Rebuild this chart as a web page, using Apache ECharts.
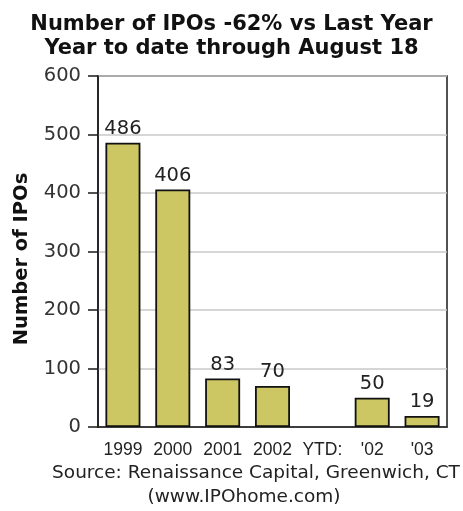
<!DOCTYPE html>
<html>
<head>
<meta charset="utf-8">
<script src="https://cdn.jsdelivr.net/npm/echarts@6/dist/echarts.min.js"></script>
<style>html,body{margin:0;padding:0;background:#fff}#c{width:463px;height:511px}</style>
</head>
<body>
<div id="c"></div>
<script>
var categories = ['1999', '2000', '2001', '2002', 'YTD:', "'02", "'03"];
var ipoCounts = [486, 406, 83, 70, null, 50, 19];
var titleLines = ['Number of IPOs -62% vs Last Year', 'Year to date through August 18'];
var yAxisName = 'Number of IPOs';
var sourceLines = ['Source: Renaissance Capital, Greenwich, CT', '(www.IPOhome.com)'];

var chart = echarts.init(document.getElementById('c'));
chart.setOption({
  backgroundColor: '#fff',
  animation: false,
  title: {
    text: titleLines.join('\n'),
    left: 'center',
    top: 7,
    textStyle: { fontFamily: 'DejaVu Sans', fontWeight: 'bold', fontSize: 21, lineHeight: 24.5, color: '#111' }
  },
  grid: { left: 98, right: 16, top: 76, bottom: 84, show: true, borderColor: '#1a1a1a', borderWidth: 1.5, backgroundColor: 'transparent' },
  xAxis: {
    type: 'category',
    data: categories,
    axisLine: { lineStyle: { color: '#1a1a1a', width: 1.5 } },
    axisTick: { alignWithLabel: true, length: 7, lineStyle: { color: '#1a1a1a', width: 1.5 },
      interval: function (i) { return ipoCounts[i] !== null; } },
    axisLabel: { color: '#222', fontFamily: 'Liberation Sans', fontSize: 17.5, margin: 14, interval: 0 }
  },
  yAxis: {
    type: 'value',
    min: 0, max: 600, interval: 100,
    axisLine: { show: true, lineStyle: { color: '#1a1a1a', width: 1.5 } },
    axisTick: { show: true, length: 10, lineStyle: { color: '#1a1a1a', width: 1.5 } },
    axisLabel: { color: '#333', fontFamily: 'DejaVu Sans', fontSize: 19.5, margin: 17 },
    splitLine: { lineStyle: { color: '#c8c8c8', width: 1.5 } }
  },
  series: [{
    type: 'bar',
    data: ipoCounts,
    barWidth: 35,
    itemStyle: { color: '#cdc763', borderColor: '#111', borderWidth: 1.8 },
    label: { show: true, position: 'top', distance: 4, color: '#222', fontFamily: 'DejaVu Sans', fontSize: 19.5 }
  }],
  graphic: [
    { type: 'text', x: 22, y: 259, rotation: Math.PI / 2,
      style: { text: yAxisName, fontFamily: 'DejaVu Sans', fontWeight: 'bold', fontSize: 19.5, fill: '#111', align: 'center', verticalAlign: 'middle' } },
    { type: 'text', x: 256, y: 473,
      style: { text: sourceLines[0], fontFamily: 'DejaVu Sans', fontSize: 18.5, fill: '#222', align: 'center', verticalAlign: 'middle' } },
    { type: 'text', x: 244, y: 497,
      style: { text: sourceLines[1], fontFamily: 'DejaVu Sans', fontSize: 18.5, fill: '#222', align: 'center', verticalAlign: 'middle' } }
  ]
});
</script>
</body>
</html>
